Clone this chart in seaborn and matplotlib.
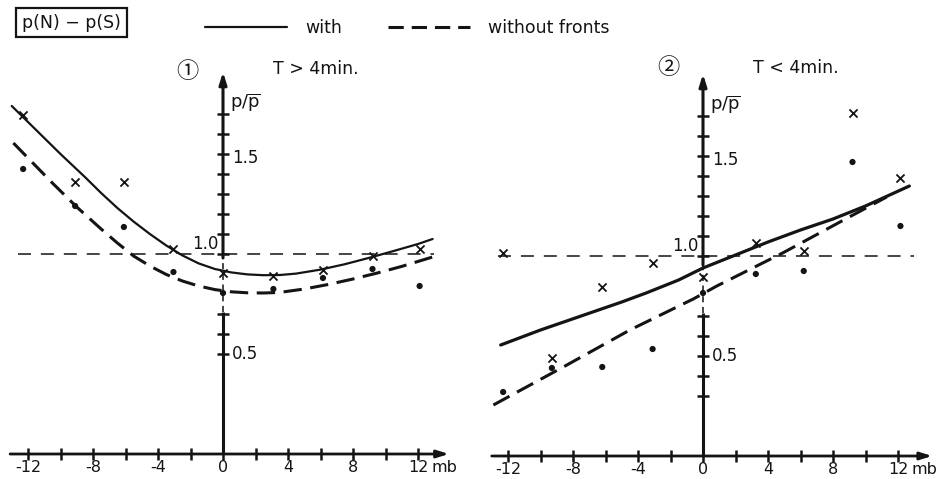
import matplotlib
matplotlib.use("Agg")
import matplotlib.pyplot as plt
import pandas as pd
import seaborn as sns
from matplotlib.lines import Line2D
from matplotlib.patches import Rectangle

# ---- observations: pressure difference p(N) - p(S) [mb] vs relative pressure p/p̄ ----
# panel 1: T > 4 min
p1_x = [-12.3, -9.1, -6.1, -3.05, 0.0, 3.1, 6.15, 9.2, 12.1]
p1_with = [1.695, 1.36, 1.36, 1.025, 0.905, 0.89, 0.92, 0.99, 1.025]
p1_without = [1.425, 1.24, 1.135, 0.91, 0.805, 0.825, 0.88, 0.925, 0.84]

# panel 2: T < 4 min
p2_x = [-12.3, -9.3, -6.2, -3.1, 0.0, 3.25, 6.2, 9.2, 12.15]
p2_with = [1.015, 0.49, 0.845, 0.965, 0.895, 1.065, 1.025, 1.715, 1.39]
p2_without = [0.32, 0.44, 0.445, 0.535, 0.815, 0.91, 0.925, 1.47, 1.15]

# ---- hand-fitted curves ----
c1_with_x = [-13.0, -12.0, -10.0, -8.5, -7.5, -6.5, -5.5, -4.5, -3.5, -2.5, -1.5, -0.5,
             0.5, 1.5, 2.5, 3.5, 4.5, 6.0, 7.5, 9.0, 10.5, 12.0, 12.9]
c1_with_y = [1.74, 1.66, 1.50, 1.385, 1.305, 1.23, 1.162, 1.10, 1.043, 0.993, 0.953, 0.925,
             0.908, 0.898, 0.894, 0.895, 0.902, 0.922, 0.949, 0.981, 1.015, 1.05, 1.075]
c1_without_x = [-12.9, -12.0, -10.5, -9.0, -7.5, -6.5, -5.5, -4.5, -3.5, -2.5, -1.5, -0.5,
                0.5, 1.5, 2.5, 3.5, 5.0, 6.5, 8.0, 9.5, 11.0, 12.9]
c1_without_y = [1.555, 1.48, 1.355, 1.235, 1.125, 1.055, 0.99, 0.94, 0.898, 0.865, 0.84, 0.822,
                0.811, 0.806, 0.805, 0.808, 0.825, 0.848, 0.875, 0.905, 0.938, 0.985]

c2_with_x = [-12.45, -10.0, -7.5, -5.0, -3.5, -1.5, 0.0, 2.0, 4.0, 6.0, 8.0, 10.0, 12.7]
c2_with_y = [0.555, 0.63, 0.70, 0.77, 0.815, 0.88, 0.94, 1.005, 1.07, 1.13, 1.185, 1.25, 1.35]
c2_without_x = [-12.9, -8.6, -4.5, -0.6, 0.85, 4.9, 9.0, 11.3]
c2_without_y = [0.255, 0.445, 0.63, 0.785, 0.85, 1.015, 1.195, 1.295]

x_major = [-12, -8, -4, 0, 4, 8, 12]
x_major_labels = ["-12", "-8", "-4", "0", "4", "8", "12"]
x_minor = [-10, -6, -2, 2, 6, 10]
y_ticks_1 = [0.5, 0.6, 0.7, 1.0, 1.1, 1.2, 1.3, 1.4, 1.5, 1.6, 1.7]
y_ticks_2 = [0.3, 0.4, 0.5, 0.6, 0.7, 1.0, 1.1, 1.2, 1.3, 1.4, 1.5, 1.6, 1.7]
y_labels = {0.5: "0.5", 1.0: "1.0", 1.5: "1.5"}

sns.set_style("white")
plt.rcParams["font.family"] = ["DejaVu Sans"]
plt.rcParams["mathtext.fontset"] = "custom"
plt.rcParams["mathtext.rm"] = "DejaVu Sans"

INK = "#141414"
W, H = 936, 479
XLIM = (-13.6, 14.2)
YLIM = (-0.08, 1.95)
SX, SY = 16.25, 200.0  # pixels per data unit

fig = plt.figure(figsize=(W / 100, H / 100), dpi=100)
fig.patch.set_facecolor("white")


def add_panel(x0_px, y0_px):
    left = x0_px + XLIM[0] * SX
    bottom = y0_px - YLIM[0] * SY
    ax = fig.add_axes([left / W, (H - bottom) / H,
                       (XLIM[1] - XLIM[0]) * SX / W, (YLIM[1] - YLIM[0]) * SY / H])
    ax.set_xlim(*XLIM)
    ax.set_ylim(*YLIM)
    ax.patch.set_alpha(0)
    for side in ("top", "right"):
        ax.spines[side].set_visible(False)
    for side in ("bottom", "left"):
        ax.spines[side].set_position(("data", 0))
        ax.spines[side].set_visible(False)
    return ax


def draw_frame(ax, yticks, x_start, x_end, gap):
    ax.annotate("", xy=(x_end, 0), xytext=(x_start, 0),
                arrowprops=dict(arrowstyle="-|>,head_length=0.7,head_width=0.22",
                                lw=2.0, color=INK, shrinkA=0, shrinkB=0),
                annotation_clip=False)
    ax.plot([0, 0], [0, gap[0]], color=INK, lw=2.2, solid_capstyle="butt")
    ax.plot([0, 0], [gap[0], gap[1]], color=INK, lw=1.1, linestyle=(0, (4, 3)))
    ax.annotate("", xy=(0, 1.91), xytext=(0, gap[1]),
                arrowprops=dict(arrowstyle="-|>,head_length=0.7,head_width=0.22",
                                lw=2.2, color=INK, shrinkA=0, shrinkB=0),
                annotation_clip=False)
    ax.set_xticks(x_major)
    ax.set_xticklabels(x_major_labels)
    ax.set_xticks(x_minor, minor=True)
    ax.set_yticks(yticks)
    ax.set_yticklabels([])
    ax.tick_params(which="both", direction="inout", length=9, width=1.8, color=INK,
                   labelsize=11.5, labelcolor=INK, pad=0,
                   bottom=True, left=True, top=False, right=False)
    ax.tick_params(axis="y", labelleft=False)
    ax.text(12.85, -0.03, "mb", fontsize=11.5, color=INK, ha="left", va="top")
    ax.text(0.55, 0.5, y_labels[0.5], fontsize=12, color=INK, ha="left", va="center")
    ax.text(0.55, 1.48, y_labels[1.5], fontsize=12, color=INK, ha="left", va="center")
    ax.text(-0.3, 1.05, y_labels[1.0], fontsize=12, color=INK, ha="right", va="center")
    ax.text(0.45, 1.755, r"$\mathrm{p/\overline{p}}$", fontsize=13, color=INK,
            ha="left", va="center")
    # reference level p/p̄ = 1
    ax.plot([-12.6, 13.0], [1.0, 1.0], color=INK, lw=1.1, linestyle=(0, (8.5, 6.5)))


def draw_data(ax, xs, yw, yo, cwx, cwy, cox, coy, solid_lw):
    curves_w = pd.DataFrame({"x": cwx, "y": cwy})
    curves_o = pd.DataFrame({"x": cox, "y": coy})
    sns.lineplot(data=curves_w, x="x", y="y", ax=ax, color=INK, lw=solid_lw,
                 sort=False, estimator=None)
    sns.lineplot(data=curves_o, x="x", y="y", ax=ax, color=INK, lw=2.2,
                 sort=False, estimator=None, linestyle=(0, (6.0, 2.8)))
    pts = pd.DataFrame({"x": xs, "with": yw, "without": yo})
    sns.scatterplot(data=pts, x="x", y="with", ax=ax, marker="x", s=34,
                    color=INK, linewidth=1.3, zorder=5)
    sns.scatterplot(data=pts, x="x", y="without", ax=ax, marker="o", s=20,
                    color=INK, edgecolor="none", zorder=5)
    ax.set_xlabel("")
    ax.set_ylabel("")


ax1 = add_panel(223, 454)
draw_frame(ax1, y_ticks_1, -13.1, 13.9, (0.71, 0.98))
draw_data(ax1, p1_x, p1_with, p1_without, c1_with_x, c1_with_y,
          c1_without_x, c1_without_y, 1.6)
ax1.text(-2.2, 1.915, "\u2460", fontsize=16, color=INK, ha="center", va="center",
         family=["Noto Sans CJK JP", "DejaVu Sans"])
ax1.text(3.05, 1.925, "T > 4min.", fontsize=12.5, color=INK, ha="left", va="center")

ax2 = add_panel(703, 456)
draw_frame(ax2, y_ticks_2, -13.0, 14.1, (0.715, 0.955))
draw_data(ax2, p2_x, p2_with, p2_without, c2_with_x, c2_with_y,
          c2_without_x, c2_without_y, 2.3)
ax2.text(-2.1, 1.94, "\u2461", fontsize=16, color=INK, ha="center", va="center",
         family=["Noto Sans CJK JP", "DejaVu Sans"])
ax2.text(3.1, 1.94, "T < 4min.", fontsize=12.5, color=INK, ha="left", va="center")


def fx(px):
    return px / W


def fy(py):
    return 1 - py / H


# header: quantity on the x axis and line key
fig.add_artist(Rectangle((fx(16), fy(37)), fx(127) - fx(16), fy(8) - fy(37),
                         transform=fig.transFigure, fill=False, lw=1.6, ec=INK))
fig.text(fx(71.5), fy(22.5), "p(N) \u2212 p(S)", fontsize=12.5, color=INK,
         ha="center", va="center")
fig.add_artist(Line2D([fx(205), fx(287)], [fy(27), fy(27)], color=INK, lw=1.6,
                      transform=fig.transFigure))
fig.text(fx(305), fy(28), "with", fontsize=12.5, color=INK, ha="left", va="center")
fig.add_artist(Line2D([fx(388), fx(470)], [fy(27), fy(27)], color=INK, lw=2.2,
                      linestyle=(0, (5.0, 2.6)), transform=fig.transFigure))
fig.text(fx(488), fy(28), "without fronts", fontsize=12.5, color=INK,
         ha="left", va="center")

fig.savefig("out.png", dpi=100, facecolor="white")
